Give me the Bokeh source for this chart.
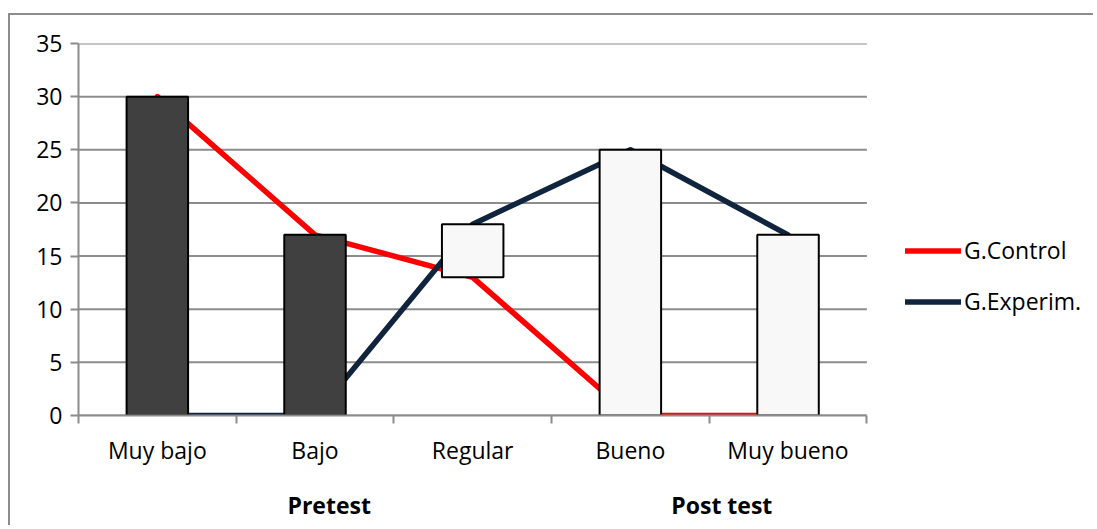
from bokeh.plotting import figure
from bokeh.models import Range1d, FixedTicker, Legend, LegendItem, LinearAxis, ColumnDataSource
from bokeh.embed import file_html
from bokeh.resources import INLINE

categories = ["Muy bajo", "Bajo", "Regular", "Bueno", "Muy bueno"]
control = [30, 17, 13, 0, 0]
experim = [0, 0, 18, 25, 17]
y_ticks = [0, 5, 10, 15, 20, 25, 30, 35]
group_labels = ["Pretest", "Post test"]
group_pos = [1.59, 4.08]

FONT = "Open Sans"
GRID = "#8c8c8c"
FS = "23px"
N = len(categories)

xs = [i + 0.5 for i in range(N)]

p = figure(width=1085, height=512, output_backend="svg", toolbar_location=None,
           x_range=Range1d(0, 6.45), y_range=Range1d(0, 35),
           min_border_left=68, min_border_right=0, min_border_top=28, min_border_bottom=112)
p.styles = {"margin-left": "8px", "margin-top": "13px",
            "border-left": "2px solid #8c8c8c", "border-top": "2px solid #8c8c8c"}
p.outline_line_color = None
p.background_fill_color = "white"
p.border_fill_color = "white"

# grid (limited to the category area)
p.xgrid.visible = False
p.ygrid.visible = False
p.segment(x0=[0] * len(y_ticks), x1=[N] * len(y_ticks), y0=y_ticks, y1=y_ticks,
          line_color=GRID, line_width=2)

# y axis
p.yaxis.ticker = FixedTicker(ticks=y_ticks, minor_ticks=[])
p.yaxis.axis_line_color = GRID
p.yaxis.axis_line_width = 2
p.yaxis.major_tick_line_color = GRID
p.yaxis.major_tick_line_width = 2
p.yaxis.major_tick_out = 8
p.yaxis.major_tick_in = 0
p.yaxis.major_label_text_font = FONT
p.yaxis.major_label_text_font_size = FS
p.yaxis.major_label_text_color = "black"
p.yaxis.major_label_standoff = 8

# x axis
p.xaxis.ticker = FixedTicker(ticks=xs, minor_ticks=list(range(N + 1)))
p.xaxis.bounds = (0, N)
p.xaxis.major_label_overrides = {x: c for x, c in zip(xs, categories)}
p.xaxis.axis_line_color = GRID
p.xaxis.axis_line_width = 2
p.xaxis.major_tick_line_color = None
p.xaxis.minor_tick_line_color = GRID
p.xaxis.minor_tick_line_width = 2
p.xaxis.minor_tick_out = 8
p.xaxis.minor_tick_in = 0
p.xaxis.major_label_text_font = FONT
p.xaxis.major_label_text_font_size = FS
p.xaxis.major_label_text_color = "black"
p.xaxis.major_label_standoff = 10

# group labels as a second bottom axis
gaxis = LinearAxis(ticker=FixedTicker(ticks=group_pos, minor_ticks=[]),
                   major_label_overrides={x: t for x, t in zip(group_pos, group_labels)})
gaxis.axis_line_color = None
gaxis.major_tick_line_color = None
gaxis.major_label_text_font = FONT
gaxis.major_label_text_font_size = FS
gaxis.major_label_text_font_style = "bold"
gaxis.major_label_text_color = "black"
gaxis.major_label_standoff = 14
p.add_layout(gaxis, "below")

# lines
r_ctrl = p.line(xs, control, line_color="#ff0000", line_width=5.5, line_join="round", line_cap="round")
r_exp = p.line(xs, experim, line_color="#10243e", line_width=5.5, line_join="round", line_cap="round")

# up-down bars
lo = [min(a, b) for a, b in zip(control, experim)]
hi = [max(a, b) for a, b in zip(control, experim)]
col = ["#404040" if a > b else "#f8f8f8" for a, b in zip(control, experim)]
src = ColumnDataSource(dict(x=xs, bottom=lo, top=hi, color=col))
p.vbar(x="x", bottom="bottom", top="top", width=0.39, fill_color="color",
       line_color="black", line_width=2, source=src)

legend = Legend(items=[LegendItem(label="G.Control", renderers=[r_ctrl]),
                       LegendItem(label="G.Experim.", renderers=[r_exp])],
                location=(827, 98))
legend.padding = 0
legend.margin = 0
legend.border_line_color = None
legend.background_fill_alpha = 0
legend.glyph_width = 56
legend.glyph_height = 25
legend.label_height = 25
legend.label_standoff = 3
legend.spacing = 19
legend.label_text_font = FONT
legend.label_text_font_size = FS
legend.label_text_color = "black"
p.add_layout(legend, "center")

open("out.html", "w").write(file_html(p, INLINE))
